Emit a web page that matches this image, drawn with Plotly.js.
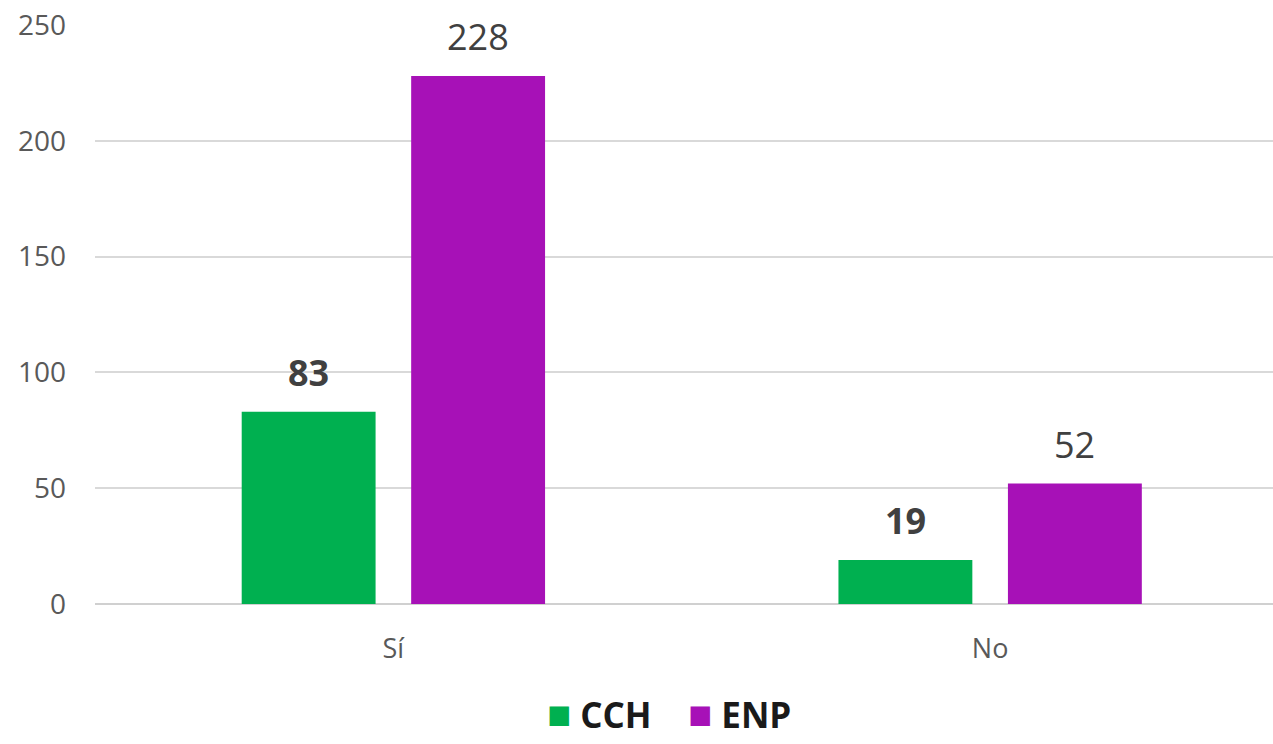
<!DOCTYPE html>
<html>
<head>
<meta charset="utf-8">
<script src="https://cdn.plot.ly/plotly-3.0.1.min.js"></script>
<style>html,body{margin:0;padding:0;background:#fff;}#chart{width:1273px;height:744px;}</style>
</head>
<body>
<div id="chart"></div>
<script>
const categories = ["Sí", "No"];
const cchValues = [83, 19];
const enpValues = [228, 52];
const seriesNames = ["CCH", "ENP"];
const yTicks = [0, 50, 100, 150, 200, 250];

const colors = ["#00B050", "#A711B7"];
const labelWeights = ["bold", "normal"];
const seriesValues = [cchValues, enpValues];
const font = "Open Sans, Noto Sans, sans-serif";

const traces = seriesValues.map((vals, s) => ({
  type: "bar",
  name: seriesNames[s],
  x: categories,
  y: vals,
  marker: { color: colors[s] },
  showlegend: false,
  hoverinfo: "x+y+name"
}));

const slotShift = 84.75;
const annotations = [];
seriesValues.forEach((vals, s) => {
  vals.forEach((v, i) => {
    annotations.push({
      x: categories[i], y: v, xref: "x", yref: "y",
      text: String(v), showarrow: false,
      xshift: (s === 0 ? -1 : 1) * slotShift,
      yanchor: "bottom", yshift: 13,
      font: { family: font, size: 36, color: "#404040", weight: labelWeights[s] }
    });
  });
});

// legend drawn as a text line with coloured squares
const legendText = seriesNames.map((n, s) =>
  `<span style="color:${colors[s]};font-size:40px">■</span> ${n}`).join("    ");
annotations.push({
  xref: "paper", yref: "paper", x: 0.487, y: -0.238,
  xanchor: "center", yanchor: "bottom", showarrow: false,
  text: legendText,
  font: { family: font, size: 35, color: "#1a1a1a", weight: "bold" }
});

const layout = {
  width: 1273, height: 744,
  margin: { l: 95, r: 0, t: 25, b: 140, autoexpand: false },
  paper_bgcolor: "#fff", plot_bgcolor: "#fff",
  barmode: "group", bargap: 0.432, bargroupgap: 0.21,
  showlegend: false,
  xaxis: {
    type: "category", range: [-0.5, 1.474], fixedrange: true, automargin: false,
    showgrid: false, zeroline: false, showline: false, ticks: "",
    tickfont: { family: font, size: 27, color: "#595959" },
    ticklabelstandoff: 26
  },
  yaxis: {
    range: [0, 250], tickvals: yTicks, fixedrange: true, automargin: false,
    showgrid: true, gridcolor: "#d9d9d9", gridwidth: 2,
    zeroline: true, zerolinecolor: "#d0d0d0", zerolinewidth: 2,
    showline: false, ticks: "",
    tickfont: { family: font, size: 28, color: "#595959" },
    ticklabelstandoff: 28
  },
  annotations: annotations
};

Plotly.newPlot("chart", traces, layout, { displayModeBar: false, staticPlot: true });
</script>
</body>
</html>
